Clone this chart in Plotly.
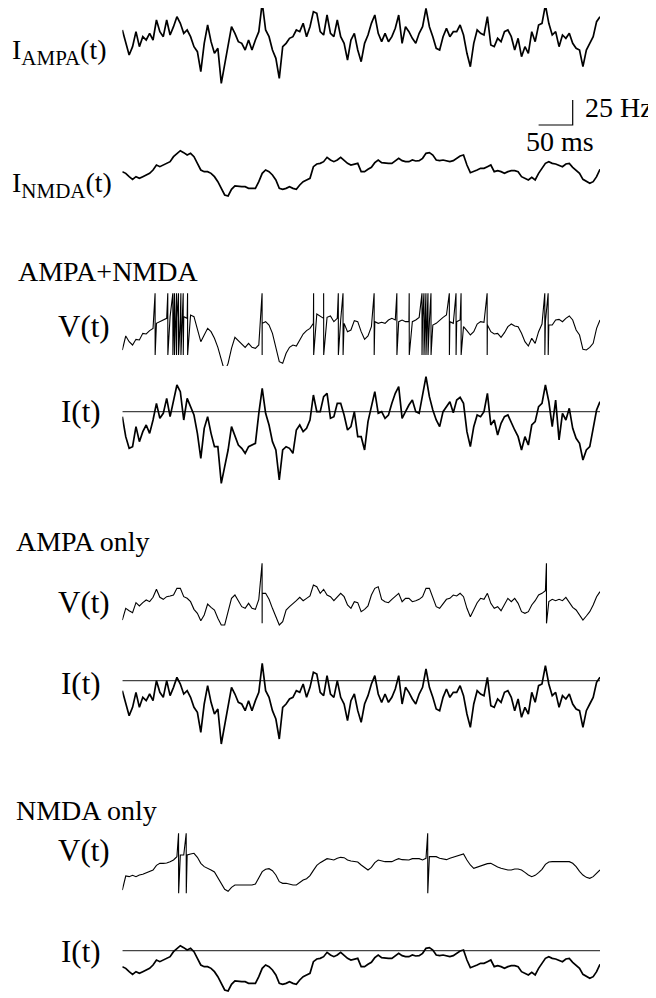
import numpy as np
import plotly.graph_objects as go

# ---------------- data ----------------
# time grid: 5 ms samples, 0..700 ms
DT_MS = 5
N_SAMPLES = 141

# AMPA-driven input current (a.u., 0 = reference line)
i_ampa = [-30, -70, -105, -80, -35, -80, -50, -60, -40, -60, 0, -35, -50, 0, -45, -20, 10, -10, -40, -30,
          -50, -80, -95, -155, -70, -15, -65, -100, -85, -190, -130, -70, -20, -40, -65, -70, -90, -60, -90, -60,
          -35, 52, -30, -50, -90, -115, -175, -80, -70, -55, -50, -30, -35, -10, -50, -20, 25, 20, -35, -45,
          15, -40, -50, 0, -50, -70, -120, -60, -40, -90, -125, -70, -45, -10, 15, -40, -65, -40, -65, -50,
          -25, 15, -70, -20, -35, -55, -70, -40, -20, 35, -20, -50, -85, -90, -50, -25, -50, -35, -35, -15,
          -45, -100, -140, -70, -30, -40, -45, 10, -75, -80, -55, -65, -35, -30, -50, -90, -55, -110, -80, -100,
          -35, -65, -15, -10, 45, -10, -45, -35, -80, -45, -55, -40, -70, -85, -90, -140, -90, -70, -50, -5, 10]

# NMDA-driven input current (a.u., 0 = reference line)
i_nmda = [-48, -53, -63, -71, -63, -68, -63, -58, -53, -43, -28, -33, -28, -25, -18, -3, 7, 15, 9, 2,
          7, -3, -23, -43, -48, -48, -53, -63, -78, -98, -118, -121, -101, -91, -93, -93, -93, -98, -98, -98,
          -78, -53, -43, -48, -58, -73, -98, -101, -98, -93, -98, -101, -88, -78, -73, -68, -33, -25, -23, -18,
          -5, -13, -18, -13, -5, -13, -23, -28, -25, -23, -48, -48, -41, -35, -21, -13, -21, -23, -23, -23,
          -15, -8, -15, -18, -18, -13, -16, -15, -8, 7, 9, 2, -13, -15, -13, -15, -18, -15, -8, -1,
          2, -28, -51, -48, -43, -38, -38, -33, -28, -48, -45, -48, -53, -48, -45, -45, -48, -63, -68, -73,
          -65, -73, -53, -38, -23, -18, -23, -25, -28, -33, -25, -23, -35, -43, -53, -71, -78, -83, -78, -63, -41]

# total input current, AMPA+NMDA condition (a.u.)
i_both = [-15, -75, -110, -105, -45, -90, -60, -40, -65, -25, 25, -20, -5, 40, -15, 35, 80, 60, -25, 40,
          13, -10, -65, -140, -50, -15, -65, -105, -105, -215, -165, -115, -45, -70, -100, -110, -125, -105, -100, -95,
          -5, 70, -5, -40, -90, -115, -205, -115, -105, -110, -125, -55, -40, -60, -50, -25, 50, 0, 0, 45,
          55, -20, -15, 25, 25, -10, -55, -45, 0, -75, -75, -115, -30, 20, 60, -5, 0, -20, -10, 25,
          55, 75, -20, 0, 20, 35, 0, -5, 50, 105, 45, 5, -25, -45, 0, 15, 30, -3, 35, 43,
          25, -60, -105, -45, -10, -15, 0, 55, -40, -25, -70, -35, -15, -10, -35, -55, -75, -115, -75, -100,
          -40, -30, 15, 25, 80, 30, -45, 35, -85, -5, -25, 10, -50, -80, -95, -145, -115, -105, -50, 5, 30]

# membrane potential, AMPA+NMDA (a.u.), spike times (ms)
v_both = [-70, -28, -45, -55, -38, -40, -20, -22, -12, -5, 10, 15, 22, 25, 30, 25, 25, 25, 30, 25,
          35, 30, -10, -45, -25, -5, -15, -35, -62, -95, -135, -110, -65, -32, -42, -55, -62, -50, -62, -65,
          -55, 10, 15, 5, -20, -62, -105, -110, -80, -62, -55, -58, -38, -22, -12, -5, 10, 38, 32, 25,
          28, 32, 15, 25, 20, 10, -15, -10, 18, 15, -15, -38, -28, 0, 15, 10, 13, 10, 20, 25,
          20, 15, 20, 15, 15, 15, 20, 28, 25, 20, 15, 5, 10, 20, 28, 35, 15, 10, 15, 20,
          0, -12, -25, -15, 8, 15, 13, 5, -15, -22, -20, -32, -18, 0, 8, 2, 0, -20, -45, -58,
          -35, -50, -15, 8, 15, 5, 5, 20, 22, 15, 25, 32, 20, -10, -25, -68, -70, -62, -50, -5, 20]
spikes_both = [48.0, 66.6, 74.0, 76.4, 79.4, 82.3, 85.8, 89.2, 95.6, 204.8, 280.3, 295.0, 316.5, 323.4,
               369.0, 402.3, 420.4, 439.1, 442.0, 444.9, 447.9, 452.3, 479.2, 489.0, 496.4, 534.6,
               619.1, 624.0]

# membrane potential, AMPA only
v_ampa = [-60, -25, -32, -38, -8, -18, -8, 0, -5, 8, 32, 8, 2, 10, 12, 15, 35, 35, 10, 5,
          -5, -28, -40, -62, -45, -12, -22, -30, -55, -75, -75, -38, 5, 15, -2, -20, -25, -10, -25, -28,
          2, 20, 20, 2, -25, -48, -75, -65, -30, -20, -12, -2, 8, -2, 5, 12, 45, 40, 20, 32,
          15, 10, -2, 10, 20, 10, -15, -25, -5, -8, -35, -28, -18, 15, 35, 40, 2, -5, -8, 2,
          12, 20, -5, 5, 5, -5, -2, 2, 10, 35, 35, 5, -20, -25, -10, 2, 5, 15, 12, 20,
          10, -25, -50, -30, -8, 5, 2, 20, -10, -25, -20, -32, -12, 5, -5, 5, -10, -35, -40, -35,
          -15, -2, 15, 20, 28, -5, 2, -2, 2, -2, 8, -8, -22, -30, -45, -60, -48, -35, -15, 10, 25]
spikes_ampa = [204.8, 621.5]

# membrane potential, NMDA only
v_nmda = [-80, -38, -40, -36, -40, -35, -33, -29, -24, -20, -6, 0, 0, 1, 5, 10, 20, 25, 25, 25,
          28, 30, 18, 0, -10, -14, -20, -26, -42, -62, -78, -84, -72, -65, -65, -65, -65, -65, -65, -62,
          -45, -25, -18, -16, -22, -35, -55, -60, -60, -63, -65, -65, -58, -50, -46, -37, -21, -6, 2, 7,
          14, 12, 10, 15, 18, 17, 10, 7, 5, 4, -5, -14, -20, -12, 2, 10, 7, 5, 5, 5,
          10, 14, 11, 10, 10, 14, 15, 14, 10, 15, 20, 20, 20, 15, 12, 11, 15, 18, 20, 25,
          28, 10, -5, -15, -11, -8, -4, -1, 0, -6, -11, -15, -18, -20, -20, -17, -17, -20, -27, -35,
          -40, -36, -28, -18, -3, 4, 5, 5, 5, 5, 5, 5, 0, -10, -24, -35, -42, -45, -40, -30, -20]
spikes_nmda = [82.4, 93.6, 447.5]

# spike extremes (a.u.) per condition: (peak, trough)
spike_ext_both = (100, -85)
spike_ext_ampa = (110, -70)
spike_ext_nmda = (90, -90)

# scale bar
SCALE_MS = 50
SCALE_HZ = 25

# ---------------- layout helpers ----------------
PAGE_OFF = 8            # default body margin of the html page
W, H = 648, 990         # figure size so that it fills the 656x998 window
X_LEFT, X_RIGHT = 122.33, 600.0   # page px of t=0 and t=700 ms
T_MAX = DT_MS * (N_SAMPLES - 1)
t = np.arange(N_SAMPLES) * DT_MS
PX_PER_UNIT = 1.0 / 3.0


def fy(page_y):
    return page_y - PAGE_OFF


def fx(page_x):
    return page_x - PAGE_OFF


def y_axis(y0_page, top_page, bot_page, px_per_unit=PX_PER_UNIT):
    top = max(0.0, fy(top_page))
    bot = min(float(H), fy(bot_page))
    y0 = fy(y0_page)
    dom = [1 - bot / H, 1 - top / H]
    rng = [(y0 - bot) / px_per_unit, (y0 - top) / px_per_unit]
    return dict(domain=dom, range=rng, visible=False, fixedrange=True, anchor="x")


def with_spikes(tt, vv, spikes, ext):
    times = list(tt)
    vals = list(vv)
    for ts in spikes:
        times += [ts, ts + 0.1]
        vals += [ext[0], ext[1]]
    order = np.argsort(times, kind="stable")
    return np.array(times)[order], np.array(vals)[order]


fig = go.Figure()
layout_axes = {}

panels = [
    # (name, zero-level page px, band top, band bottom, data, kind)
    ("I_AMPA", 20.0, 0, 120, i_ampa, "I0"),
    ("I_NMDA", 155.67, 120, 230, i_nmda, "I0"),
    ("V both", 326.67, 230, 366, (v_both, spikes_both, spike_ext_both), "V"),
    ("I both", 411.67, 366, 530, i_both, "I"),
    ("V ampa", 600.0, 530, 640, (v_ampa, spikes_ampa, spike_ext_ampa), "V"),
    ("I ampa", 680.67, 640, 780, i_ampa, "I"),
    ("V nmda", 863.33, 780, 925, (v_nmda, spikes_nmda, spike_ext_nmda), "V"),
    ("I nmda", 950.67, 925, 998, i_nmda, "I"),
]

for idx, (name, y0, top, bot, data, kind) in enumerate(panels, start=1):
    ax = "y" if idx == 1 else f"y{idx}"
    key = "yaxis" if idx == 1 else f"yaxis{idx}"
    layout_axes[key] = y_axis(y0, top, bot)
    if kind == "I":
        fig.add_trace(go.Scatter(x=[0, T_MAX], y=[0, 0], mode="lines",
                                 line=dict(color="#444444", width=1.2),
                                 xaxis="x", yaxis=ax, hoverinfo="skip"))
    if kind == "V":
        vv, sp, ext = data
        tx, vy = with_spikes(t, vv, sp, ext)
        fig.add_trace(go.Scatter(x=tx, y=vy, mode="lines",
                                 line=dict(color="black", width=1.1),
                                 xaxis="x", yaxis=ax, name=name))
    else:
        fig.add_trace(go.Scatter(x=t, y=data, mode="lines",
                                 line=dict(color="black", width=1.7),
                                 xaxis="x", yaxis=ax, name=name))

# scale bar axis: 1 Hz = 1 px, 0 Hz at page y 125
layout_axes["yaxis9"] = y_axis(125.0, 88, 135, px_per_unit=1.0)
bar_t_end = 660
fig.add_trace(go.Scatter(x=[bar_t_end - SCALE_MS, bar_t_end, bar_t_end],
                         y=[0, 0, SCALE_HZ], mode="lines",
                         line=dict(color="black", width=1.2),
                         xaxis="x", yaxis="y9", hoverinfo="skip"))

FONT = "Liberation Serif, Times New Roman, serif"


def label(text, x_page, y_page, size=28):
    fig.add_annotation(text=text, x=fx(x_page) / W, y=1 - fy(y_page) / H,
                       xref="paper", yref="paper",
                       xanchor="left", yanchor="middle", showarrow=False,
                       font=dict(family=FONT, size=size, color="black"))


SUB = '<sub><span style="font-size:21px">{}</span></sub>'
label("I" + SUB.format("AMPA") + "(t)", 10, 52)
label("I" + SUB.format("NMDA") + "(t)", 10, 185)
label("AMPA+NMDA", 16, 272)
label("V(t)", 56, 326, size=31)
label("I(t)", 59, 412, size=31)
label("AMPA only", 14, 541)
label("V(t)", 56, 602, size=31)
label("I(t)", 59, 683, size=31)
label("NMDA only", 14, 810)
label("V(t)", 56, 850, size=31)
label("I(t)", 59, 951, size=31)
label("25 Hz", 583, 108)
label("50 ms", 524, 142)

fig.update_layout(
    width=W, height=H,
    margin=dict(l=0, r=0, t=0, b=0),
    paper_bgcolor="white", plot_bgcolor="rgba(0,0,0,0)",
    showlegend=False,
    xaxis=dict(domain=[fx(X_LEFT) / W, fx(X_RIGHT) / W], range=[0, T_MAX], visible=False,
               fixedrange=True, anchor="y"),
    **layout_axes,
)

fig.write_html("out.html")
